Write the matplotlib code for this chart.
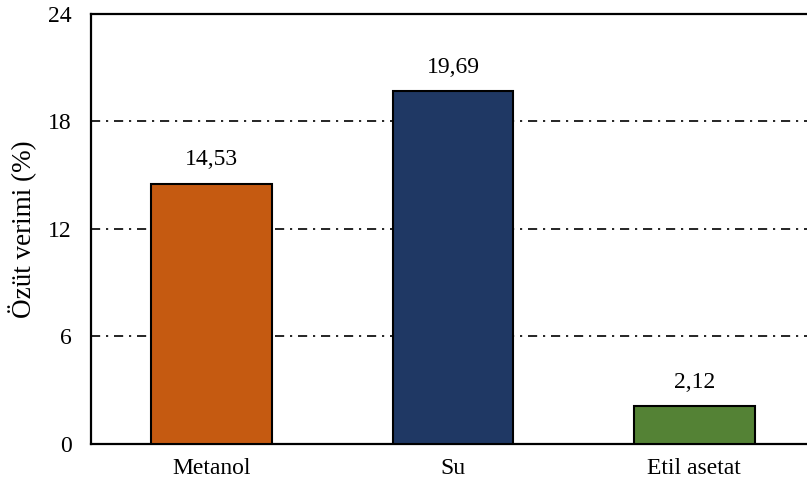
import matplotlib.pyplot as plt

categories = ['Metanol', 'Su', 'Etil asetat']
values = [14.53, 19.69, 2.12]
labels = ['14,53', '19,69', '2,12']
colors = ['#C55A11', '#1F3864', '#548235']
yticks = [0, 6, 12, 18, 24]

plt.rcParams['font.family'] = ['Liberation Serif', 'DejaVu Serif']

fig = plt.figure(figsize=(8.07, 4.88), dpi=100)
ax = fig.add_axes([0.1128, 0.0902, 0.8971, 0.8811])

x = range(len(categories))
ax.bar(x, values, width=0.5, color=colors, edgecolor='black', linewidth=1.5, zorder=3)
for i, v in enumerate(values):
    ax.text(i, v + 0.75, labels[i], ha='center', va='bottom', fontsize=17)

ax.set_xlim(-0.5, 2.5)
ax.set_ylim(0, 24)
ax.set_yticks(yticks)
ax.set_xticks(list(x))
ax.set_xticklabels(categories)
ax.tick_params(length=0, labelsize=17, pad=10)
ax.tick_params(axis='y', pad=14)
for yv in [6, 12, 18]:
    ax.axhline(yv, color='black', linestyle=(0, (5.5, 3.5, 1.3, 3.5)), linewidth=1.2, zorder=1)

ax.spines['right'].set_visible(False)
for s in ['left', 'top', 'bottom']:
    ax.spines[s].set_linewidth(1.6)
ax.set_ylabel('Özüt verimi (%)', fontsize=19.5, labelpad=8)

fig.savefig('out.png', dpi=100)
